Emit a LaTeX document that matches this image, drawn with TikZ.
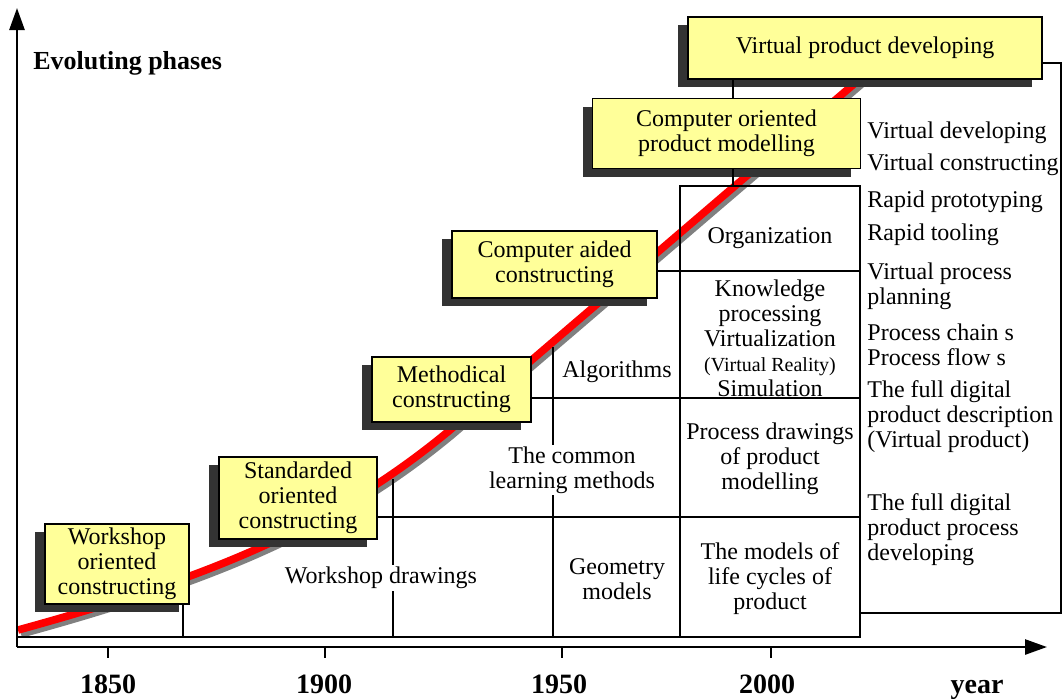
\documentclass[tikz,border=0pt]{standalone}
\usepackage{fontspec}
\setmainfont{Liberation Serif}
\usetikzlibrary{shadows,arrows.meta}
\definecolor{boxyellow}{HTML}{FFFF99}
\definecolor{shadowgray}{HTML}{333333}
\begin{document}
\begin{tikzpicture}[x=0.5pt,y=-0.5pt,
  phase/.style={draw=black,line width=0.9pt,fill=boxyellow,inner sep=0pt,align=center,
    font=\fontsize{12}{12.5}\selectfont,
    drop shadow={shadow xshift=-5pt,shadow yshift=-4pt,fill=shadowgray,opacity=1}},
  txt/.style={inner sep=0pt,align=center,font=\fontsize{12}{12.5}\selectfont},
  wtxt/.style={txt,fill=white,inner sep=1pt},
  rtxt/.style={inner sep=0pt,align=left,anchor=west,font=\fontsize{12}{12.5}\selectfont},
  gridline/.style={line width=0.8pt},
  axisline/.style={line width=1.3pt},
  yearlbl/.style={font=\fontsize{14}{14}\selectfont\bfseries,inner sep=0pt,anchor=base},
  redline/.style={line width=3.8pt,red},
  greyline/.style={line width=3.8pt,black!50}]

\useasboundingbox (0,0) rectangle (1063,698);

% ---- growth curve ----
\coordinate (c0) at (18,630);
\coordinate (c1) at (450,430);
\coordinate (c2) at (875,66);
\coordinate (s0) at (21,634);
\coordinate (s1) at (453,434);
\coordinate (s2) at (878,70);
\draw[greyline] (s0) .. controls (203,584) and (333,534) .. (s1) -- (s2);
\draw[redline] (c0) .. controls (200,580) and (330,530) .. (c1) -- (c2);

% ---- axes ----
\coordinate (o) at (17,647);
\coordinate (ytop) at (17,8);
\coordinate (xend) at (1047,647);
\draw[axisline,-{Triangle[length=11pt,width=7.5pt]}] (o) -- (ytop);
\draw[axisline,-{Triangle[length=11pt,width=7.5pt]}] (o) -- (xend);
\node[font=\fontsize{13}{13}\selectfont\bfseries,inner sep=0pt,anchor=west] (title) at (33,63) {Evoluting phases};

\foreach \xx/\nm in {108/ta,325/tb,562/tc,771/td}{
  \coordinate (\nm) at (\xx,647);
  \draw[line width=0.8pt] (\nm) -- ++(0,11);
}
\node[yearlbl] (l1850) at (108,693) {1850};
\node[yearlbl] (l1900) at (324,693) {1900};
\node[yearlbl] (l1950) at (559,693) {1950};
\node[yearlbl] (l2000) at (767,693) {2000};
\node[yearlbl] (lyear) at (977,693) {year};

% ---- phase boxes ----
\node[phase,minimum width=72pt,minimum height=40pt] (ws) at (117,564) {Workshop\\oriented\\constructing};
\node[phase,minimum width=79pt,minimum height=41pt] (sd) at (298,498) {Standarded\\oriented\\constructing};
\node[phase,minimum width=79.5pt,minimum height=32.5pt] (md) at (451.5,389.5) {Methodical\\constructing};
\node[phase,minimum width=102.5pt,minimum height=33.5pt] (ca) at (554.5,264.5) {Computer aided\\constructing};
\node[phase,minimum width=134pt,minimum height=35pt] (co) at (726.5,133.5) {Computer oriented\\product modelling};
\node[phase,minimum width=177pt,minimum height=31pt] (vp) at (865,48) {Virtual product developing};

% ---- grid ----
\coordinate (tl) at (680,186);
\coordinate (br) at (860,637);
\coordinate (h637) at (860,637);
\coordinate (h517) at (860,517);
\coordinate (h398) at (860,398);
\coordinate (h271) at (860,271);
\coordinate (g0) at (18,637);
\draw[gridline] (tl) rectangle (br);
\draw[gridline] (g0) -- (h637);
\draw[gridline] (sd.east |- h517) -- (h517);
\draw[gridline] (md.east |- h398) -- (h398);
\draw[gridline] (ca.east |- h271) -- (h271);
\coordinate (v183) at (183,637);
\coordinate (v393t) at (393,479);
\coordinate (v393b) at (393,637);
\coordinate (v553t) at (553,347);
\coordinate (v553b) at (553,637);
\coordinate (v733) at (733,186);
\draw[gridline] (ws.south -| v183) -- (v183);
\draw[gridline] (v393t) -- (v393b);
\draw[gridline] (v553t) -- (v553b);
\draw[gridline] (vp.south -| v733) -- (co.north -| v733);
\draw[gridline] (co.south -| v733) -- (v733);

% right bracket
\coordinate (bk1) at (1061,63);
\coordinate (bk2) at (1061,613);
\coordinate (bk3) at (860,613);
\draw[line width=0.7pt] (vp.east |- bk1) -- (bk1) -- (bk2) -- (bk3);

% ---- cell texts ----
\node[wtxt] (wd) at (381,578) {Workshop drawings};
\node[wtxt] (lm) at (572,470) {The common\\learning methods};
\node[txt] (alg) at (617,372) {Algorithms};
\node[txt] (geo) at (617,579) {Geometry\\models};
\node[txt] (org) at (770,238) {Organization};
\node[txt] (kp) at (770,338) {Knowledge\\processing\\Virtualization\\{\fontsize{10}{11.5}\selectfont (Virtual Reality)}\\Simulation};
\node[txt] (pd) at (770,459) {Process drawings\\of product\\modelling};
\node[txt] (lc) at (770,579) {The models of\\life cycles of\\product};

% ---- right column ----
\node[rtxt] (r1) at (867,133) {Virtual developing};
\node[rtxt] (r2) at (867,165) {Virtual constructing};
\node[rtxt] (r3) at (867,202) {Rapid prototyping};
\node[rtxt] (r4) at (867,235) {Rapid tooling};
\node[rtxt] (r5) at (867,286.5) {Virtual process\\planning};
\node[rtxt] (r6) at (867,344.5) {Process chain s\\Process flow s};
\node[rtxt] (r7) at (867,416.5) {The full digital\\product description\\(Virtual product)};
\node[rtxt] (r8) at (867,529.5) {The full digital\\product process\\developing};
\end{tikzpicture}
\end{document}
